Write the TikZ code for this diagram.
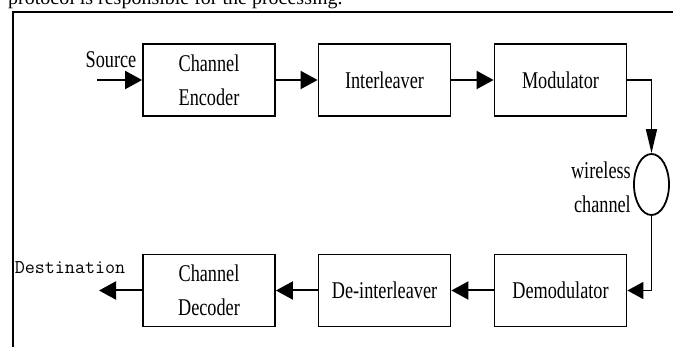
\documentclass[tikz,border=0pt]{standalone}
\usepackage{fontspec}
\setmainfont{Liberation Serif}
\usetikzlibrary{arrows.meta,shapes.geometric}

% narrow (condensed) text, as in the block labels
\newcommand{\cnd}[1]{\scalebox{0.76}[1]{#1}}

\begin{document}
\begin{tikzpicture}[x=1pt,y=-1pt,
  block/.style={draw, line width=1.8pt, minimum width=132pt, minimum height=72pt,
                inner sep=0pt, align=center, font=\fontsize{24}{34}\selectfont},
  lbl/.style={inner sep=0pt, font=\fontsize{24}{34}\selectfont},
  flow/.style={line width=2pt, -{Triangle[length=17pt,width=18pt]}},
  thin flow/.style={line width=1.6pt}]

\useasboundingbox (0,0) rectangle (673,347);
\clip (0,0) rectangle (673,347);

% running text above the figure frame
\node[anchor=base west, inner sep=0pt, font=\fontsize{20}{24}\selectfont]
  (para) at (8,5) {protocol is responsible for the processing.};

% figure frame (top and left rules)
\draw[line width=2.5pt] (673,12) -- (13,12) -- (13,347);

% transmitter chain
\node[block] (enc) at (209,80) {\cnd{Channel}\\\cnd{Encoder}};
\node[block] (il)  at (384.5,80) {\cnd{Interleaver}};
\node[block] (mod) at (560.5,80) {\cnd{Modulator}};

% channel
\node[draw, ellipse, line width=1.8pt, minimum width=35pt, minimum height=61pt,
      inner sep=0pt] (ch) at (651.5,184.5) {};
\node[lbl, anchor=east, align=right] (chl) at (631,187) {\cnd{wireless}\\\cnd{channel}};

% receiver chain
\node[block] (dem) at (560.5,290.5) {\cnd{Demodulator}};
\node[block] (dil) at (384.5,290.5) {\cnd{De-interleaver}};
\node[block] (dec) at (209,290.5) {\cnd{Channel}\\\cnd{Decoder}};

% terminals
\coordinate (src) at (97,80);
\coordinate (dst) at (99,290.5);
\node[lbl] (srcl) at (111,60) {\cnd{Source}};
\node[inner sep=0pt, font=\ttfamily\fontsize{19.5}{22}\selectfont] (dstl) at (70,268) {Destination};

% connectors
\draw[flow] (src) -- (enc.west);
\draw[flow] (enc.east) -- (il.west);
\draw[flow] (il.east) -- (mod.west);
\draw[thin flow, -{Triangle[length=24pt,width=11pt]}] (mod.east) -| (ch.north);
\draw[thin flow, -{Triangle[length=16pt,width=17pt]}] (ch.south) |- (dem.east);
\draw[flow] (dem.west) -- (dil.east);
\draw[flow] (dil.west) -- (dec.east);
\draw[flow] (dec.west) -- (dst);
\end{tikzpicture}
\end{document}
